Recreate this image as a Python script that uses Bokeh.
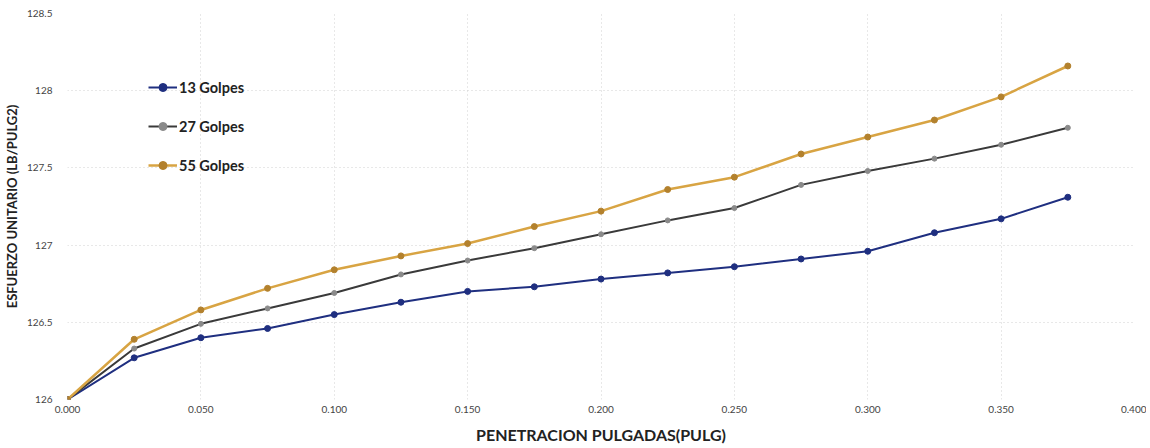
from bokeh.plotting import figure
from bokeh.models import Legend, LegendItem, FixedTicker, NumeralTickFormatter, Range1d
from bokeh.embed import file_html
from bokeh.resources import INLINE

# ---- data ----
penetracion = [0.000, 0.025, 0.050, 0.075, 0.100, 0.125, 0.150, 0.175,
               0.200, 0.225, 0.250, 0.275, 0.300, 0.325, 0.350, 0.375]
golpes13 = [126.00, 126.27, 126.40, 126.46, 126.55, 126.63, 126.70, 126.73,
            126.78, 126.82, 126.86, 126.91, 126.96, 127.08, 127.17, 127.31]
golpes27 = [126.00, 126.33, 126.49, 126.59, 126.69, 126.81, 126.90, 126.98,
            127.07, 127.16, 127.24, 127.39, 127.48, 127.56, 127.65, 127.76]
golpes55 = [126.00, 126.39, 126.58, 126.72, 126.84, 126.93, 127.01, 127.12,
            127.22, 127.36, 127.44, 127.59, 127.70, 127.81, 127.96, 128.16]
series_names = ["13 Golpes", "27 Golpes", "55 Golpes"]
x_ticks = [0.0, 0.05, 0.1, 0.15, 0.2, 0.25, 0.3, 0.35, 0.4]
y_ticks = [126, 126.5, 127, 127.5, 128, 128.5]
y_tick_labels = ["126", "126.5", "127", "127.5", "128", "128.5"]

FONT = "Lato"

p = figure(frame_width=1067, frame_height=386, output_backend="svg", toolbar_location=None,
           x_range=Range1d(0, 0.4), y_range=Range1d(126, 128.5),
           min_border_left=55, min_border_right=12, min_border_top=13, min_border_bottom=30)
p.background_fill_color = "white"
p.border_fill_color = "white"
p.outline_line_color = None

# grid
for g in (p.xgrid, p.ygrid):
    g.grid_line_color = "#d0d0d0"
    g.grid_line_dash = "1 3"
    g.grid_line_width = 1
p.xgrid.ticker = FixedTicker(ticks=x_ticks)
p.ygrid.ticker = FixedTicker(ticks=y_ticks)

# axes
p.xaxis.ticker = FixedTicker(ticks=x_ticks)
p.xaxis.formatter = NumeralTickFormatter(format="0.000")
p.yaxis.ticker = FixedTicker(ticks=y_ticks)
p.yaxis.major_label_overrides = {t: l for t, l in zip(y_ticks, y_tick_labels)}
for ax in (p.xaxis, p.yaxis):
    ax.axis_line_color = None
    ax.major_tick_line_color = None
    ax.minor_tick_line_color = None
    ax.major_label_text_font = FONT
    ax.major_label_text_font_size = "10px"
    ax.major_label_text_color = "#444444"
    ax.axis_label_text_font = FONT
    ax.axis_label_text_font_style = "bold"
    ax.axis_label_text_color = "#222222"
p.xaxis.major_label_standoff = 0
p.yaxis.major_label_standoff = 9
p.xaxis.axis_label = "PENETRACION PULGADAS(PULG)"
p.xaxis.axis_label_text_font_size = "16px"
p.xaxis.axis_label_standoff = 9
p.yaxis.axis_label = "ESFUERZO UNITARIO (LB/PULG2)"
p.yaxis.axis_label_text_font_size = "13px"
p.yaxis.axis_label_standoff = 4

# series
l13 = p.line(penetracion, golpes13, line_color="#1f2f80", line_width=2)
m13 = p.scatter(penetracion, golpes13, size=6, fill_color="#1f2f80", line_color="#1f2f80")
l27 = p.line(penetracion, golpes27, line_color="#3a3a3a", line_width=2)
m27 = p.scatter(penetracion, golpes27, size=5, fill_color="#8a8a8a", line_color="#8a8a8a")
l55 = p.line(penetracion, golpes55, line_color="#d8a443", line_width=2.5)
m55 = p.scatter(penetracion, golpes55, size=6, fill_color="#b3812d", line_color="#b3812d")

legend = Legend(items=[
    LegendItem(label=series_names[0], renderers=[l13, m13]),
    LegendItem(label=series_names[1], renderers=[l27, m27]),
    LegendItem(label=series_names[2], renderers=[l55, m55]),
], location=(81, 224))
legend.border_line_color = None
legend.background_fill_alpha = 0
legend.padding = 0
legend.spacing = 19
legend.glyph_width = 29
legend.glyph_height = 20
legend.label_standoff = 2
legend.label_text_font = FONT
legend.label_text_font_style = "bold"
legend.label_text_font_size = "14.5px"
legend.label_text_color = "#222222"
p.add_layout(legend, "center")

open("out.html", "w").write(file_html(p, INLINE))
